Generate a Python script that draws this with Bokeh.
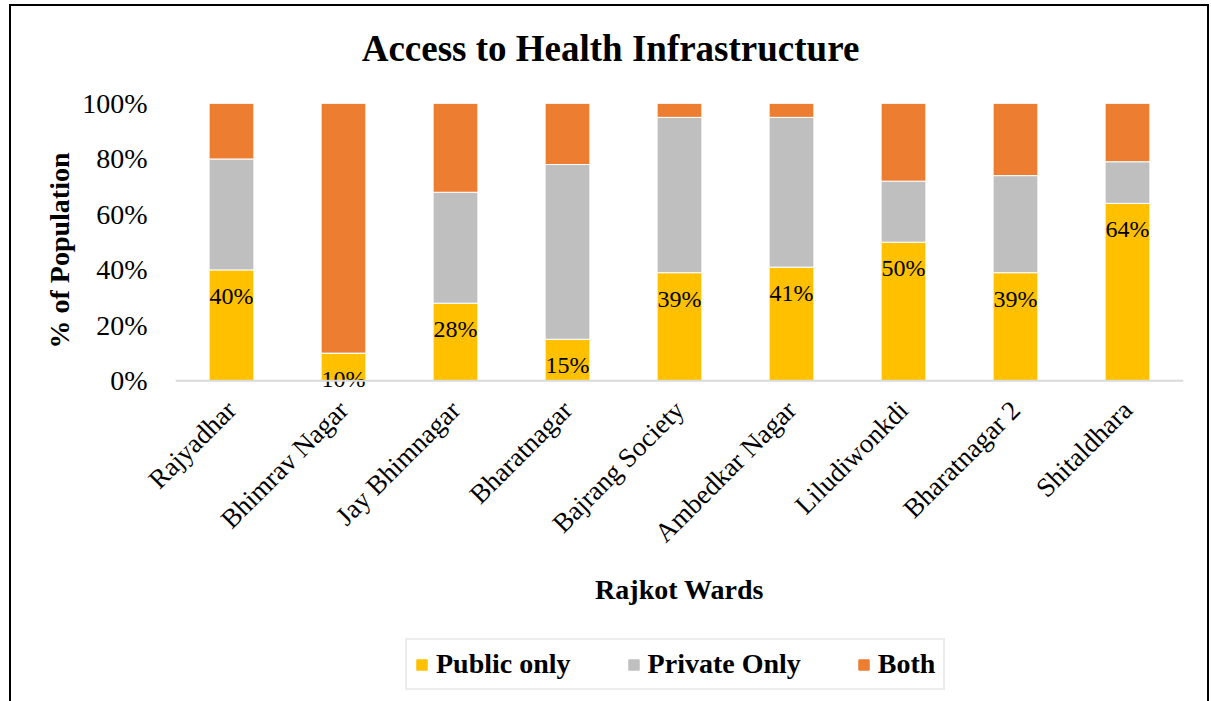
import math
from bokeh.plotting import figure
from bokeh.layouts import column
from bokeh.models import (ColumnDataSource, FactorRange, Range1d, Legend, LegendItem,
                          NumeralTickFormatter, FixedTicker, Span, Label)
from bokeh.core.properties import value
from bokeh.embed import file_html
from bokeh.resources import INLINE

wards = ["Rajyadhar", "Bhimrav Nagar", "Jay Bhimnagar", "Bharatnagar", "Bajrang Society",
         "Ambedkar Nagar", "Liludiwonkdi", "Bharatnagar 2", "Shitaldhara"]
public_only = [0.40, 0.10, 0.28, 0.15, 0.39, 0.41, 0.50, 0.39, 0.64]
private_only = [0.40, 0.00, 0.40, 0.63, 0.56, 0.54, 0.22, 0.35, 0.15]
both = [0.20, 0.90, 0.32, 0.22, 0.05, 0.05, 0.28, 0.26, 0.21]
public_labels = ["40%", "10%", "28%", "15%", "39%", "41%", "50%", "39%", "64%"]
y_ticks = [0, 0.2, 0.4, 0.6, 0.8, 1.0]

series = ["public", "private", "both"]
names = ["Public only", "Private Only", "Both"]
colors = ["#FFC000", "#BFBFBF", "#ED7D31"]
title_text = "Access to Health Infrastructure"

src = ColumnDataSource(dict(ward=wards, public=public_only, private=private_only,
                            both=both, lab=public_labels))

SERIF = "Liberation Serif"
BL, BR = 164, 24  # shared left/right borders so all frames line up

# ---- title strip ----
p0 = figure(x_range=Range1d(0, 1008), y_range=Range1d(0, 77), width=1196, height=77,
            output_backend="svg", toolbar_location=None,
            min_border_left=BL, min_border_right=BR, min_border_top=0, min_border_bottom=0,
            x_axis_type=None, y_axis_type=None)
p0.xgrid.visible = False
p0.ygrid.visible = False
p0.outline_line_color = None
p0.add_layout(Label(x=435, y=35, text=title_text, text_font=SERIF,
                    text_font_size="37px", text_font_style="bold", text_color="black",
                    text_align="center", text_baseline="middle"))

# ---- main chart ----
p = figure(x_range=FactorRange(*wards), y_range=Range1d(-0.06, 1),
           width=1196, height=537, output_backend="svg", toolbar_location=None,
           min_border_left=BL, min_border_right=BR, min_border_top=20,
           min_border_bottom=223)

rs = p.vbar_stack(series, x="ward", width=0.4, source=src, color=colors,
                  line_color="white", line_width=1)

p.text(x="ward", y="public", text="lab", source=src, text_font=value(SERIF),
       text_font_size="24px", text_align="center", text_baseline="middle",
       y_offset=26, text_color="black")

p.add_layout(Span(location=0, dimension="width", line_color="#D9D9D9", line_width=2))

p.xgrid.visible = False
p.ygrid.visible = False
p.outline_line_color = None

p.yaxis.ticker = FixedTicker(ticks=y_ticks)
p.yaxis.formatter = NumeralTickFormatter(format="0%")
p.yaxis.axis_line_color = None
p.yaxis.major_tick_line_color = None
p.yaxis.minor_tick_line_color = None
p.yaxis.major_label_text_font = SERIF
p.yaxis.major_label_text_font_size = "28px"
p.yaxis.major_label_text_color = "black"
p.yaxis.major_label_standoff = 22
p.yaxis.axis_label = "% of Population"
p.yaxis.axis_label_text_font = SERIF
p.yaxis.axis_label_text_font_size = "28px"
p.yaxis.axis_label_text_font_style = "bold"
p.yaxis.axis_label_text_color = "black"
p.yaxis.axis_label_standoff = 4

p.xaxis.axis_line_color = None
p.xaxis.major_tick_line_color = None
p.xaxis.minor_tick_line_color = None
p.xaxis.major_label_orientation = math.pi / 4
p.xaxis.major_label_text_font = SERIF
p.xaxis.major_label_text_font_size = "27px"
p.xaxis.major_label_text_color = "black"
p.xaxis.major_label_standoff = 2
p.xaxis.axis_label = "Rajkot Wards"
p.xaxis.axis_label_text_font = SERIF
p.xaxis.axis_label_text_font_size = "28px"
p.xaxis.axis_label_text_font_style = "bold"
p.xaxis.axis_label_text_color = "black"
p.xaxis.axis_label_standoff = 12

# ---- legend strip ----
p2 = figure(x_range=p.x_range, y_range=Range1d(2, 3), width=1196, height=90,
            output_backend="svg", toolbar_location=None,
            min_border_left=BL, min_border_right=BR, min_border_top=0, min_border_bottom=0,
            x_axis_type=None, y_axis_type=None)
p2.xgrid.visible = False
p2.ygrid.visible = False
p2.outline_line_color = None
rs2 = p2.vbar_stack(series, x="ward", width=0.4, source=src, color=colors)

legend = Legend(items=[LegendItem(label=n, renderers=[r]) for n, r in zip(names, rs2)],
                orientation="horizontal", location=(230, 20),
                label_text_font=SERIF, label_text_font_size="28px",
                label_text_font_style="bold", label_text_color="black",
                glyph_width=13, glyph_height=13,
                label_standoff=8, spacing=56, padding=8, margin=0,
                border_line_color="#D9D9D9", border_line_width=2,
                background_fill_alpha=1)
p2.add_layout(legend, "center")

layout = column(p0, p, p2, spacing=0,
                styles={"margin-left": "9px", "margin-top": "4px",
                        "border-left": "2px solid black",
                        "border-top": "2px solid black",
                        "border-right": "2px solid black"})

open("out.html", "w").write(file_html(layout, INLINE))
